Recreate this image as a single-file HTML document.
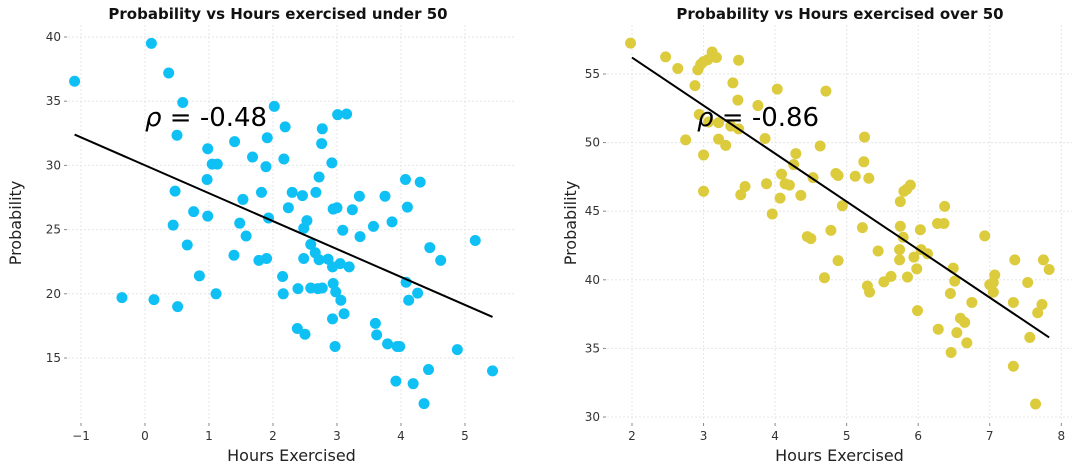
<!DOCTYPE html>
<html><head><meta charset="utf-8"><style>
body{margin:0;background:#fff;}
svg text{font-family:"DejaVu Sans","Liberation Sans",sans-serif;}
</style></head><body>
<svg id="chart" width="1080" height="471" viewBox="0 0 1080 471" xmlns="http://www.w3.org/2000/svg"></svg>
<script>
const leftX=[-1.10,0.10,0.37,0.59,2.02,0.50,0.98,1.40,1.91,2.19,3.01,3.15,2.77,2.76,1.05,1.13,1.68,1.89,2.17,2.92,0.97,2.72,4.07,4.30,0.47,1.82,2.30,2.46,2.67,3.35,3.75,1.53,2.24,2.94,3.00,3.24,4.10,0.76,0.98,1.93,2.53,1.48,0.44,3.86,3.57,2.48,3.09,1.58,3.36,0.66,2.59,4.45,5.16,2.66,1.39,2.72,2.86,1.78,1.90,2.48,2.93,3.05,3.19,4.62,0.85,2.15,4.08,2.94,2.39,2.59,2.70,2.77,1.11,2.16,2.98,4.26,-0.36,0.14,3.06,4.12,0.51,3.11,2.93,3.60,2.38,2.50,3.62,3.79,3.94,3.98,2.97,4.88,4.43,5.43,3.92,4.19,4.36];
const leftY=[36.55,39.5,37.2,34.9,34.6,32.35,31.3,31.85,32.15,33.0,33.95,34.0,32.85,31.7,30.1,30.1,30.65,29.9,30.5,30.2,28.9,29.1,28.9,28.7,28.0,27.9,27.9,27.65,27.9,27.6,27.6,27.35,26.7,26.6,26.7,26.55,26.75,26.4,26.05,25.9,25.7,25.5,25.35,25.6,25.25,25.1,24.95,24.5,24.45,23.8,23.85,23.6,24.15,23.2,23.0,22.65,22.7,22.6,22.75,22.75,22.1,22.35,22.1,22.6,21.4,21.35,20.9,20.8,20.4,20.45,20.4,20.45,20.0,20.0,20.15,20.05,19.7,19.55,19.5,19.5,19.0,18.45,18.05,17.7,17.3,16.85,16.8,16.1,15.9,15.9,15.9,15.65,14.1,14.0,13.2,13.0,11.45];
const leftLine=[[-1.1,32.4],[5.43,18.2]];
const leftXTicks=[-1,0,1,2,3,4,5];
const leftYTicks=[15,20,25,30,35,40];
const rightX=[1.98,2.47,2.64,2.88,2.92,2.96,3.00,3.06,3.12,3.18,3.49,3.41,3.48,2.94,3.07,3.21,3.38,3.49,3.76,4.03,4.71,2.75,3.21,3.31,3.00,3.86,4.63,5.25,4.29,5.24,4.26,4.09,4.53,4.85,4.88,5.12,5.31,4.14,4.20,3.88,3.58,3.52,3.00,4.36,4.07,5.89,5.84,5.80,5.75,3.96,4.94,6.37,6.27,6.36,5.22,5.75,5.79,6.03,4.78,4.45,4.50,6.93,5.74,6.04,6.13,5.44,5.94,5.74,4.88,7.35,7.75,7.83,5.98,6.49,5.85,5.62,5.52,4.69,6.51,7.07,7.00,7.05,7.05,7.53,5.29,5.32,6.45,6.75,7.33,7.73,7.67,5.99,6.59,6.65,6.28,6.54,6.68,7.56,6.46,7.33,7.64];
const rightY=[57.25,56.25,55.4,54.15,55.3,55.7,55.9,56.05,56.6,56.2,56.0,54.35,53.1,52.05,51.5,51.45,51.2,51.0,52.7,53.9,53.75,50.2,50.25,49.8,49.1,50.3,49.75,50.4,49.2,48.6,48.4,47.7,47.45,47.75,47.6,47.55,47.4,47.0,46.9,47.0,46.8,46.2,46.45,46.15,45.95,46.9,46.6,46.45,45.7,44.8,45.4,45.35,44.1,44.1,43.8,43.9,43.1,43.65,43.6,43.15,43.0,43.2,42.2,42.2,41.9,42.1,41.65,41.45,41.4,41.45,41.45,40.75,40.8,40.85,40.2,40.25,39.85,40.15,39.9,40.35,39.65,39.8,39.1,39.8,39.55,39.1,39.0,38.35,38.35,38.2,37.6,37.75,37.2,36.9,36.4,36.15,35.4,35.8,34.7,33.7,30.95];
const rightLine=[[2.0,56.2],[7.83,35.8]];
const rightXTicks=[2,3,4,5,6,7,8];
const rightYTicks=[30,35,40,45,50,55];

const NS='http://www.w3.org/2000/svg';
const svg=document.getElementById('chart');
function mk(tag,attrs,parent,text){const e=document.createElementNS(NS,tag);for(const k in attrs)e.setAttribute(k,attrs[k]);if(text!==undefined)e.textContent=text;(parent||svg).appendChild(e);return e;}

function panel(o){
  const g=mk('g',{});
  
  
  const sx=v=>o.x0+(v-o.xv0)*o.xs, sy=v=>o.y0-(v-o.yv0)*o.ys;
  o.xt.forEach(t=>{
    const gl=mk('line',{x1:sx(t),x2:sx(t),y1:o.top,y2:o.bot,stroke:'#e6e6e6','stroke-dasharray':'2,2','stroke-width':1},g);
    
    mk('line',{x1:sx(t),x2:sx(t),y1:o.bot+2,y2:o.bot+5,stroke:'#888'},g);
    const tl=mk('text',{x:sx(t),y:o.bot+19,'text-anchor':'middle','font-size':12,fill:'#333'},g,t<0?'\u2212'+(-t):String(t));
    
  });
  o.yt.forEach(t=>{
    const gl=mk('line',{x1:o.left,x2:o.right,y1:sy(t),y2:sy(t),stroke:'#e6e6e6','stroke-dasharray':'2,2','stroke-width':1},g);
    
    mk('line',{x1:o.left-4,x2:o.left-1,y1:sy(t),y2:sy(t),stroke:'#888'},g);
    const tl=mk('text',{x:o.left-7,y:sy(t)+4,'text-anchor':'end','font-size':12,fill:'#333'},g,String(t));
    
  });
  o.px.forEach((v,i)=>{
    const c=mk('circle',{cx:sx(v),cy:sy(o.py[i]),r:5.5,fill:o.color},g);
    
  });
  const ln=mk('line',{x1:sx(o.line[0][0]),y1:sy(o.line[0][1]),x2:sx(o.line[1][0]),y2:sy(o.line[1][1]),stroke:'#000','stroke-width':2},g);
  
  const tt=mk('text',{x:o.tx,y:19,'text-anchor':'middle','font-size':15,'font-weight':'bold',fill:'#111'},g,o.title);
  
  const xl=mk('text',{x:(o.left+o.right)/2,y:461,'text-anchor':'middle','font-size':16,fill:'#222'},g,'Hours Exercised');
  
  const yl=mk('text',{x:0,y:0,'text-anchor':'middle','font-size':16,fill:'#222',transform:`translate(${o.ylx},${(o.top+o.bot)/2}) rotate(-90)`},g,'Probability');
  
  const rt=mk('text',{x:o.rx,y:126,'font-size':26,fill:'#000'},g);
  
  mk('tspan',{'font-style':'italic'},rt,'\u03C1');
  mk('tspan',{},rt,' = '+o.rho);
}
panel({name:'under-50-panel',x0:145,xv0:0,xs:64,y0:37,yv0:40,ys:12.84,left:68,right:515,top:25,bot:421,xt:leftXTicks,yt:leftYTicks,px:leftX,py:leftY,line:leftLine,color:'#0fc0f5',title:'Probability vs Hours exercised under 50',tx:278,ylx:21,rx:145,rho:'-0.48'});
panel({name:'over-50-panel',x0:632,xv0:2,xs:71.55,y0:74,yv0:55,ys:13.72,left:607,right:1072,top:25,bot:421,xt:rightXTicks,yt:rightYTicks,px:rightX,py:rightY,line:rightLine,color:'#dccb3c',title:'Probability vs Hours exercised over 50',tx:840,ylx:576,rx:697,rho:'-0.86'});
</script>
</body></html>
